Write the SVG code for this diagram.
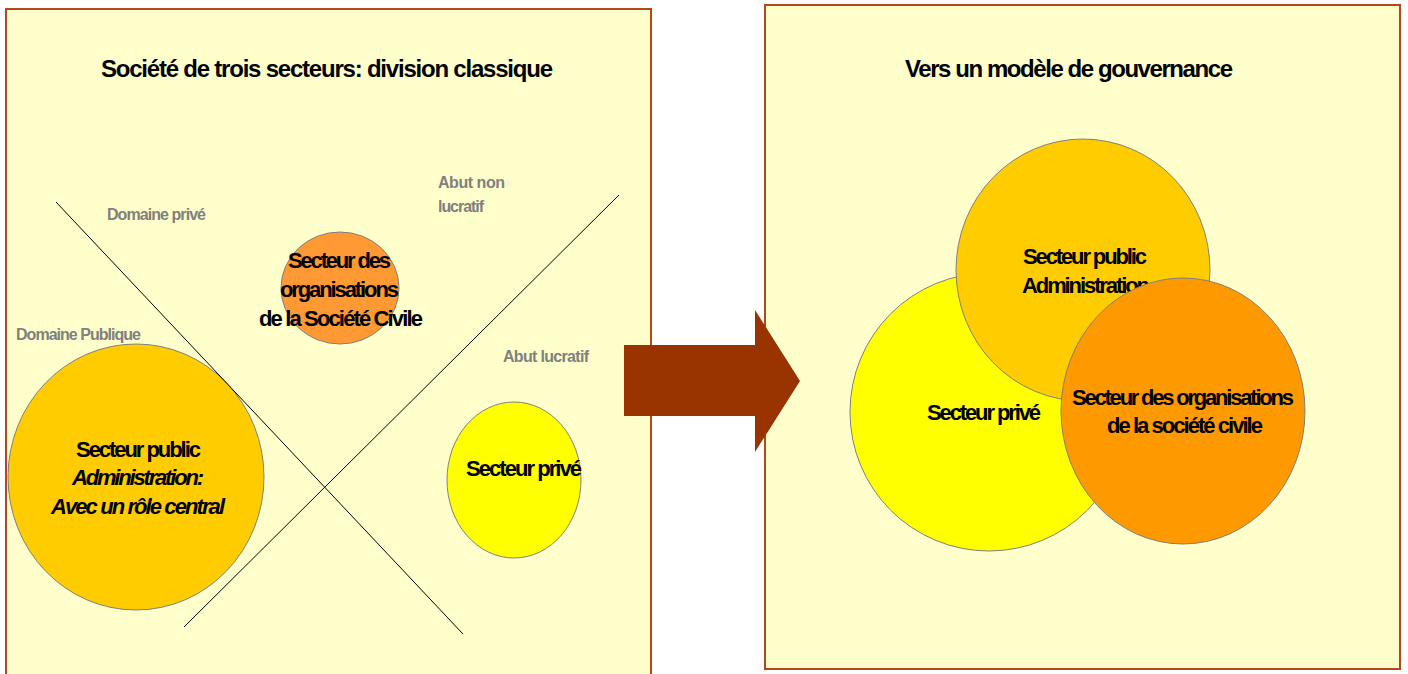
<svg xmlns="http://www.w3.org/2000/svg" width="1408" height="674" viewBox="0 0 1408 674">
<style>
.panel{fill:#FFFFCC;stroke:#B5461E;stroke-width:2}
.circ{stroke:#808080;stroke-width:1}
.t{font-family:"Liberation Sans",Arial,sans-serif;font-weight:bold;font-size:22px;fill:#000}
.h{font-size:24px}
.ti{font-style:italic}
.g{font-family:"Liberation Sans",Arial,sans-serif;font-weight:bold;font-size:16px;fill:#808080}
.ln{stroke:#000;stroke-width:1;fill:none}
</style>
<rect width="1408" height="674" fill="#FFFFFF"/>
<g id="panel-left">
<rect class="panel" x="6" y="9" width="645" height="690"/>
<text class="t h" x="101" y="77" textLength="452">Société de trois secteurs: division classique</text>
</g>
<g id="panel-right">
<rect class="panel" x="765" y="5" width="635" height="664"/>
<text class="t h" x="905" y="77" textLength="328">Vers un modèle de gouvernance</text>
</g>
<g id="left-public">
<ellipse class="circ" cx="136" cy="477" rx="128" ry="133" fill="#FFCC00"/>
<text class="t" x="76" y="457" textLength="125">Secteur public</text>
<text class="t ti" x="72" y="485" textLength="132">Administration:</text>
<text class="t ti" x="51" y="514" textLength="174">Avec un rôle central</text>
</g>
<g id="left-civil">
<ellipse class="circ" cx="340" cy="288" rx="59" ry="56" fill="#FF9933"/>
<text class="t" x="288" y="268" textLength="103">Secteur des</text>
<text class="t" x="280" y="297" textLength="119">organisations</text>
<text class="t" x="259" y="326" textLength="164">de la Société Civile</text>
</g>
<g id="left-prive">
<ellipse class="circ" cx="514" cy="480" rx="67" ry="78" fill="#FFFF00"/>
<text class="t" x="466" y="476" textLength="116">Secteur privé</text>
</g>
<g id="connectors">
<line class="ln" x1="56" y1="202" x2="463" y2="634"/>
<line class="ln" x1="619" y1="195" x2="184" y2="627"/>
</g>
<g id="labels">
<text class="g" x="107" y="220" textLength="99">Domaine privé</text>
<text class="g" x="438" y="188" textLength="67">Abut non</text>
<text class="g" x="438" y="212" textLength="46">lucratif</text>
<text class="g" x="16" y="340" textLength="125">Domaine Publique</text>
<text class="g" x="503" y="362" textLength="86">Abut lucratif</text>
</g>
<g id="arrow">
<polygon points="624,345 755,345 755,310 800,381 755,452 755,416 624,416" fill="#993300"/>
</g>
<g id="right-prive">
<ellipse class="circ" cx="989" cy="412" rx="139" ry="139" fill="#FFFF00"/>
<text class="t" x="927" y="420" textLength="114">Secteur privé</text>
</g>
<g id="right-public">
<ellipse class="circ" cx="1083" cy="270" rx="127" ry="131" fill="#FFCC00"/>
<text class="t" x="1023" y="264" textLength="124">Secteur public</text>
<text class="t" x="1022" y="293" textLength="128">Administration</text>
</g>
<g id="right-civil">
<ellipse class="circ" cx="1183" cy="411" rx="122" ry="133" fill="#FF9900"/>
<text class="t" x="1072" y="405" textLength="222">Secteur des organisations</text>
<text class="t" x="1107" y="433" textLength="156">de la société civile</text>
</g>
</svg>
